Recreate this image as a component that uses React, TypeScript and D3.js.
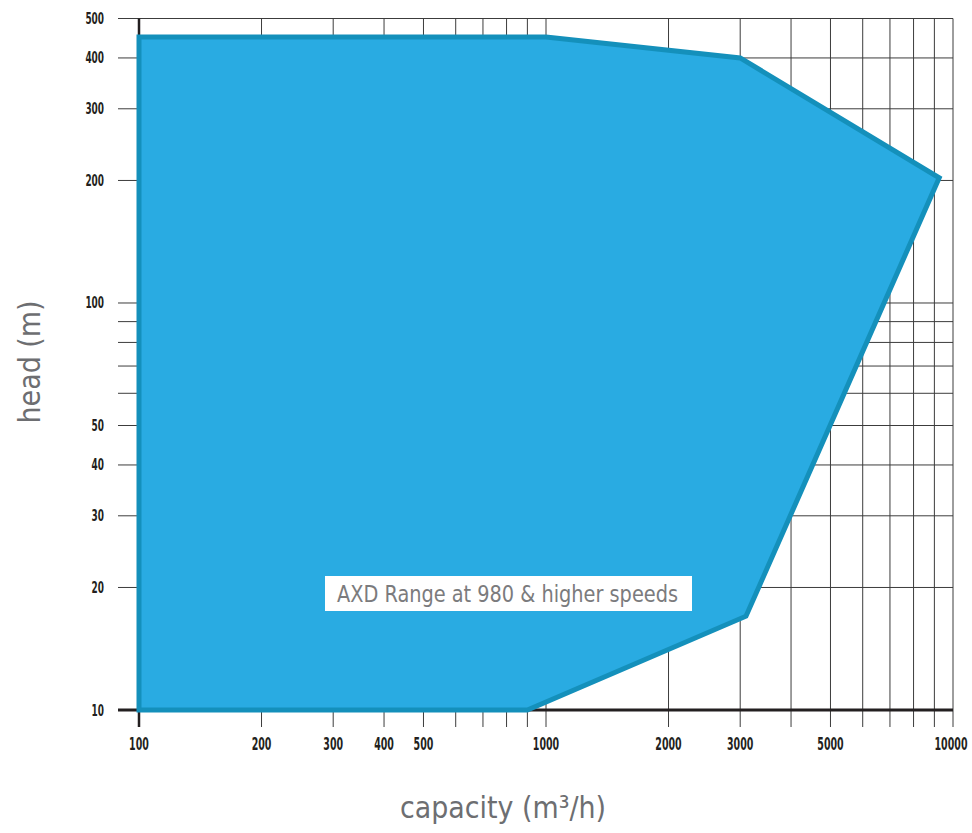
import React from "react";
import * as d3 from "d3";

// Operating envelope of the AXD range: capacity (m³/h) vs head (m)
const envelopeCapacity = [100, 100, 1000, 3000, 9250, 3100, 900];
const envelopeHead = [10, 450, 450, 400, 203, 17, 10];

const xGridValues = [100, 200, 300, 400, 500, 600, 700, 800, 900, 1000, 2000, 3000, 4000, 5000, 6000, 7000, 8000, 9000, 10000];
const yGridValues = [10, 20, 30, 40, 50, 60, 70, 80, 90, 100, 200, 300, 400, 500];
const xTickLabels = [100, 200, 300, 400, 500, 1000, 2000, 3000, 5000, 10000];
const yTickLabels = [10, 20, 30, 40, 50, 100, 200, 300, 400, 500];

const rangeLabel = "AXD Range at 980 & higher speeds";
const xTitle = "capacity (m³/h)";
const yTitle = "head (m)";

const W = 972;
const H = 833;
const left = 139;
const right = 953;
const top = 18.5;
const bottom = 710;
const tickLeft = 118;
const tickBottom = 727;

const condensed = "'DejaVu Sans Condensed', 'DejaVu Sans', sans-serif";
// horizontal squeeze applied to the bold numeric tick labels
const tickSqueeze = 0.62;

export default function App() {
  const x = d3.scaleLog().domain([100, 10000]).range([left, right]);
  const y = d3.scaleLog().domain([10, 500]).range([bottom, top]);

  const pts: [number, number][] = envelopeCapacity.map((c, i) => [x(c), y(envelopeHead[i])]);
  const area = d3.line()(pts) + "Z";

  return (
    <svg
      width={W}
      height={H}
      viewBox={`0 0 ${W} ${H}`}
      style={{ position: "absolute", left: 0, top: 0, background: "#fff" }}
    >
      {/* grid */}
      <g stroke="#3c3c3c" strokeWidth={1}>
        {yGridValues.map((v) => (
          <line key={"h" + v} x1={tickLeft} x2={right} y1={y(v)} y2={y(v)} />
        ))}
        {xGridValues.map((v) => (
          <line key={"v" + v} x1={x(v)} x2={x(v)} y1={top} y2={tickBottom} />
        ))}
      </g>
      {/* axis lines */}
      <line x1={tickLeft} x2={right} y1={bottom} y2={bottom} stroke="#231f20" strokeWidth={3} />
      <line x1={left} x2={left} y1={top} y2={tickBottom} stroke="#231f20" strokeWidth={2.5} />

      {/* envelope */}
      <path d={area} fill="#29abe2" stroke="#1490bb" strokeWidth={5} strokeLinejoin="miter" />

      {/* range label */}
      <rect x={325} y={576} width={367} height={35} fill="#fff" />
      <text
        x={337}
        y={601.5}
        fontFamily={condensed}
        fontSize={23}
        fill="#7b7b7d"
        textLength={341}
        lengthAdjust="spacingAndGlyphs"
      >
        {rangeLabel}
      </text>

      {/* x tick labels */}
      <g fontFamily={condensed} fontWeight="bold" fontSize={17} fill="#231f20">
        {xTickLabels.map((v, i) => {
          const last = i === xTickLabels.length - 1;
          const cx = last ? x(v) - 2 : x(v);
          return (
            <text
              key={"xl" + v}
              transform={`translate(${cx},750) scale(${tickSqueeze},1)`}
              textAnchor="middle"
            >
              {String(v)}
            </text>
          );
        })}
      </g>
      {/* y tick labels */}
      <g fontFamily={condensed} fontWeight="bold" fontSize={16} fill="#231f20">
        {yTickLabels.map((v) => (
          <text
            key={"yl" + v}
            transform={`translate(104,${y(v) + 5.5}) scale(${tickSqueeze},1)`}
            textAnchor="end"
          >
            {String(v)}
          </text>
        ))}
      </g>

      {/* axis titles */}
      <text
        x={503}
        y={818}
        textAnchor="middle"
        fontFamily={condensed}
        fontSize={31}
        fill="#6d6e71"
        textLength={206}
        lengthAdjust="spacingAndGlyphs"
      >
        {xTitle}
      </text>
      <text
        transform="translate(40,362) rotate(-90)"
        textAnchor="middle"
        fontFamily={condensed}
        fontSize={31}
        fill="#6d6e71"
        textLength={123}
        lengthAdjust="spacingAndGlyphs"
      >
        {yTitle}
      </text>
    </svg>
  );
}
